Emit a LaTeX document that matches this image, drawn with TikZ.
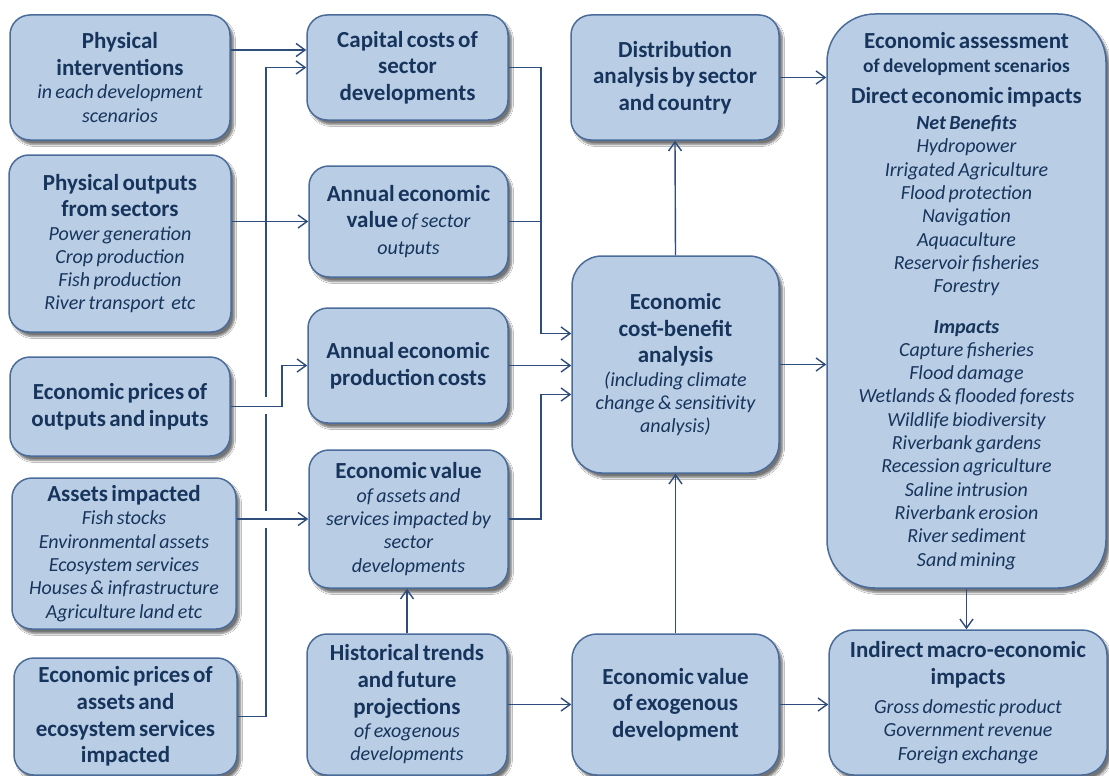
\documentclass[tikz,border=0pt]{standalone}
\usepackage{fontspec}
\setmainfont{Carlito}
\usetikzlibrary{arrows.meta,shadows.blur}
\definecolor{boxfill}{HTML}{B9CDE5}
\definecolor{boxline}{HTML}{4A6C9B}
\definecolor{txtcol}{HTML}{17355C}
\definecolor{conncol}{HTML}{2E4D7B}
\newcommand\hbf{\fontsize{23}{26.7}\selectfont\bfseries\upshape}
\newcommand\hif{\fontsize{20}{23.3}\selectfont\mdseries\itshape}
\newcommand\hsf{\fontsize{19.5}{24}\selectfont\bfseries\upshape}
\begin{document}
\begin{tikzpicture}[x=1pt,y=-1pt,
  box/.style={draw=boxline, line width=1.5pt, fill=boxfill, rounded corners=20pt,
    text=txtcol, align=center, inner sep=0pt,
    blur shadow={shadow xshift=3.5pt,shadow yshift=-4.5pt,shadow blur steps=6,shadow opacity=55}},
  conn/.style={draw=conncol, line width=1.4pt, -{Straight Barb[length=9pt,width=13pt]}},
  plainline/.style={draw=conncol, line width=1.4pt}]
\fill[white] (0,0) rectangle (1109,776);
\useasboundingbox (0,0) rectangle (1109,776);

% left column
\node[box, minimum width=220pt, minimum height=125pt, text width=214pt] (L1) at (120,77.5)
  {{\hbf Physical\\interventions\par}{\hif in each development\\scenarios\par}};
\node[box, minimum width=222pt, minimum height=177pt, text width=214pt] (L2) at (120,243.5)
  {{\hbf Physical outputs\\from sectors\par}{\hif Power generation\\Crop production\\Fish production\\River transport~ etc\par}};
\node[box, minimum width=220pt, minimum height=99pt, text width=214pt] (L3) at (120,406.5)
  {{\hbf Economic prices of\\outputs and inputs\par}};
\node[box, minimum width=224pt, minimum height=151pt, text width=218pt] (L4) at (124,553.5)
  {{\hbf Assets impacted\par}{\hif Fish stocks\\Environmental assets\\Ecosystem services\\Houses \& infrastructure\\Agriculture land etc\par}};
\node[box, minimum width=223pt, minimum height=117pt, text width=217pt] (L5) at (125.5,716.5)
  {{\hbf Economic prices of\\assets and\\ecosystem services\\impacted\par}};

% middle column
\node[box, minimum width=201pt, minimum height=105pt, text width=195pt] (M1) at (407.5,67.5)
  {{\hbf Capital costs of\\sector\\developments\par}};
\node[box, minimum width=199pt, minimum height=111pt, text width=193pt] (M2) at (408.5,221.5)
  {{\hbf Annual economic\\value {\hif of sector}\\{\hif outputs}\par}};
\node[box, minimum width=200pt, minimum height=115pt, text width=194pt] (M3) at (408,365.5)
  {{\hbf Annual economic\\production costs\par}};
\node[box, minimum width=199pt, minimum height=138pt, text width=193pt] (M4) at (408.5,519)
  {{\hbf Economic value\par}{\hif of assets and\\services impacted by\\sector\\developments\par}};
\node[box, minimum width=200pt, minimum height=141pt, text width=194pt] (M5) at (407,704.5)
  {{\hbf Historical trends\\and future\\projections\par}{\hif of exogenous\\developments\par}};

% third column
\node[box, minimum width=208pt, minimum height=125pt, text width=202pt] (C1) at (675,77.5)
  {{\hbf Distribution\\analysis by sector\\and country\par}};
\node[box, rounded corners=30pt, minimum width=207pt, minimum height=217pt, text width=201pt] (C2) at (675.5,364.5)
  {{\hbf Economic\\cost-benefit\\analysis\par}{\hif (including climate\\change \& sensitivity\\analysis)\par}};
\node[box, rounded corners=25pt, minimum width=207pt, minimum height=141pt, text width=201pt] (C3) at (675.5,704.5)
  {{\hbf Economic value\\of exogenous\\development\par}};

% right column
\node[box, rounded corners=48pt, minimum width=279pt, minimum height=574pt, text width=272pt] (R1) at (966.5,301)
  {{\hbf Economic assessment\par}
   {\hsf of development scenarios\par}
   \vspace{4pt}
   {\hbf Direct economic impacts\par}
   \vspace{3pt}
   {\hif\bfseries Net Benefits\par}
   {\hif Hydropower\\Irrigated Agriculture\\Flood protection\\Navigation\\Aquaculture\\Reservoir fisheries\\Forestry\par}
   \vspace{17pt}
   {\hif\bfseries Impacts\par}
   {\hif Capture fisheries\\Flood damage\\Wetlands \& flooded forests\\Wildlife biodiversity\\Riverbank gardens\\Recession agriculture\\Saline intrusion\\Riverbank erosion\\River sediment\\Sand mining\par}};
\node[box, rounded corners=25pt, minimum width=278pt, minimum height=145pt, text width=272pt] (R2) at (968,702.5)
  {{\hbf Indirect macro-economic\\impacts\par}\vspace{6pt}{\hif Gross domestic product\\Government revenue\\Foreign exchange\par}};

% junction coordinates
\coordinate (ja) at (266,400);
\coordinate (jb) at (282,400);
\coordinate (jc) at (541,300);
\coordinate (jd) at (541,450);

% connectors
\draw[conn] ([yshift=27.5pt]L1.east) -- ([yshift=27.5pt]L1.east -| M1.west);
\draw[conn] (L5.east) -| (ja) |- (M1.west);
\fill[white] (261,397) rectangle (271,414);
\fill[white] (261,511) rectangle (271,528);
\draw[conn] (L2.east |- M2.west) -- (M2.west);
\draw[conn] (L3.east) -| (jb) |- (M3.west);
\draw[conn] (L4.east |- M4.west) -- (M4.west);
\draw[conn] (M5.north) -- (M5.north |- M4.south);
\draw[conn] (M5.east) -- (M5.east -| C3.west);

\draw[conn] (M1.east) -| (jc) |- ([yshift=31pt]C2.west);
\draw[plainline] (M2.east) -- (M2.east -| jc);
\draw[conn] (M3.east) -- (M3.east -| C2.west);
\draw[conn] (M4.east) -| (jd) |- ([yshift=-30pt]C2.west);

\draw[conn] (C2.north) -- (C1.south);
\draw[conn] (C3.north) -- (C2.south);
\draw[conn] (C1.east) -- (C1.east -| R1.west);
\draw[conn] (C2.east) -- (C2.east -| R1.west);
\draw[conn] (C3.east) -- (C3.east -| R2.west);
\draw[conn] (R1.south) -- (R1.south |- R2.north);
\end{tikzpicture}
\end{document}
